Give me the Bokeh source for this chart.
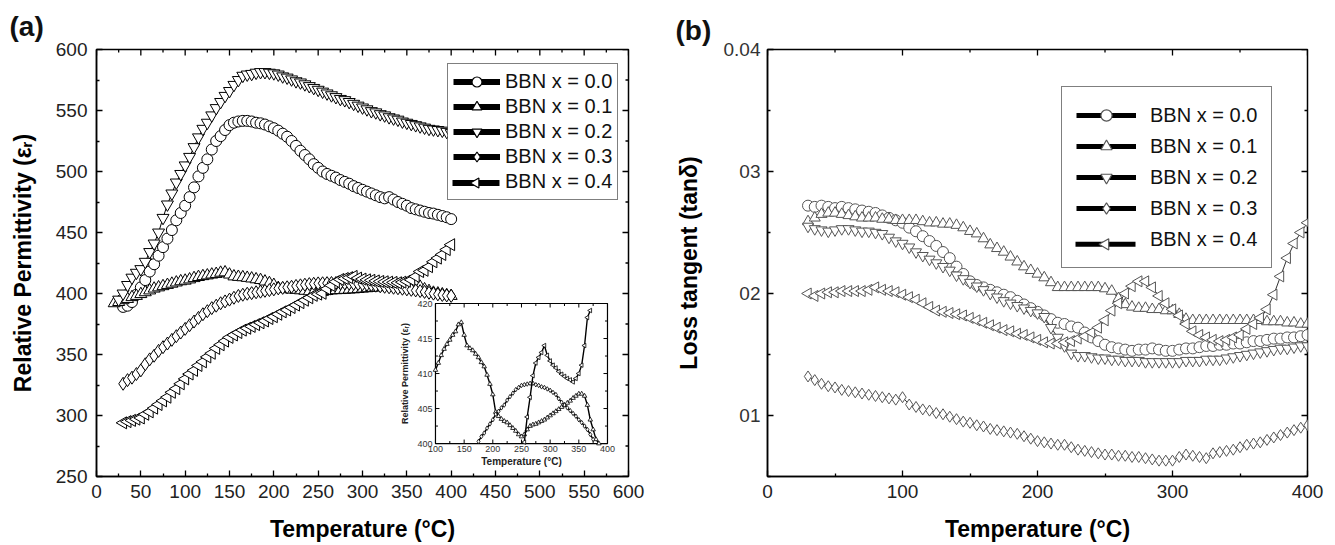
import numpy as np
from bokeh.plotting import figure
from bokeh.models import Range1d, FixedTicker, Legend, LegendItem
from bokeh.layouts import row
from bokeh.embed import file_html
from bokeh.resources import INLINE
from bokeh.core.properties import value

FONT = "Liberation Sans"

# ---------------- data: panel (a) relative permittivity ----------------
T_A = [20, 25, 30, 35, 40, 45, 50, 55, 60, 65, 70, 75, 80, 85, 90, 95, 100, 105, 110, 115,
       120, 125, 130, 135, 140, 145, 150, 155, 160, 165, 170, 175, 180, 185, 190, 195, 200,
       205, 210, 215, 220, 225, 230, 235, 240, 245, 250, 255, 260, 265, 270, 275, 280, 285,
       290, 295, 300, 305, 310, 315, 320, 325, 330, 335, 340, 345, 350, 355, 360, 365, 370,
       375, 380, 385, 390, 395, 400]

EPS_X00 = [389, 390, 393, 399, 405, 411, 418, 424, 431, 438,
           445, 452, 460, 466, 472, 479, 487, 496, 503, 510,
           518, 525, 529, 534, 538, 540, 541, 541.5, 541.5, 541,
           540, 539.5, 538.5, 537, 535.5, 533.5, 531, 528.5, 525, 521,
           517, 513.5, 510, 506, 503, 500, 498, 496.5, 495, 493,
           491.5, 490, 488, 486.5, 485, 483.5, 482, 480.5, 479, 478,
           479, 477, 475, 473.5, 472, 470, 469, 468, 467, 466,
           465.5, 464.5, 463.5, 462.5, 461]

EPS_X01 = [392, 393, 394.5, 395.5, 397, 398, 399.5, 401, 402.5, 404,
           405, 406, 407, 408, 409, 410, 410.5, 411.5, 412.6, 413.5,
           414.2, 414.8, 415.5, 416, 417, 417.3, 415.5, 414, 413.6, 413.3,
           412.8, 412.3, 411.6, 411, 409.8, 408.5, 407, 404.5, 403.9, 403.5,
           403.2, 403, 402.6, 402.2, 401.8, 401.3, 401, 401.3, 402, 402.5,
           402.7, 402.8, 403, 403.2, 403.4, 403.7, 404, 404.3, 404.6, 404.9,
           405.2, 405.5, 405.8, 406.1, 406.5, 406.8, 407.1, 407.1, 406.8, 405.5,
           403.4, 402, 400.6, 400, 399.3, 398.6, 398]

EPS_X02 = [395, 400, 407, 413, 417, 420, 426, 434, 441, 450,
           462, 473, 482, 491, 498, 505, 512, 520, 528, 535,
           540, 546, 552, 557, 562, 566, 571, 575, 578.5, 579.5,
           580, 581, 581.5, 581.5, 581, 580.5, 579.5, 578, 577, 575.5,
           574, 573, 571.5, 570, 568.5, 567, 565.5, 564, 562.5, 561,
           559.5, 558.5, 557, 555.5, 554, 552.5, 551, 549.5, 548.5, 547,
           546, 544.5, 543.5, 542.5, 541, 540, 539, 538, 537, 536,
           535, 534.5, 534, 533.5, 532.5, 531.5]

EPS_X03 = [326, 329, 331, 334, 337, 342, 346, 349, 353, 356,
           359, 362, 365, 368, 371, 374, 377, 380, 383, 385.5,
           388, 390, 392, 393.5, 395, 396.5, 398, 399, 399.8, 400.3,
           401, 401.5, 402.2, 402.8, 403.4, 404.2, 404.6, 405.1, 405.5, 406.2,
           406.7, 407.2, 407.7, 408, 408.3, 408.4, 408.5, 408.6, 408.6, 408.4,
           408.3, 408.1, 408, 407.8, 407.6, 407.3, 407, 406.4, 405.9, 405.5,
           405.1, 404.7, 404.3, 403.9, 403.4, 403, 402.5, 402, 401.3, 400.6,
           399.9, 399.3, 398.8, 398.4, 398]

EPS_X04 = [294, 295, 296, 297, 298, 301, 303, 306, 309, 312,
           315, 319, 322, 326, 330, 334, 337, 341, 344, 348,
           351, 355, 358, 361, 364, 366, 368, 370, 371.5, 373,
           374.5, 376, 377.5, 379.5, 381, 383, 385, 386.5, 388.5, 390.5,
           392.5, 394.5, 396.5, 398.5, 399.5, 400.2, 403.8, 406.6, 409.7, 411.5,
           412.3, 413, 414, 412.6, 411.8, 411.2, 410.8, 410.3, 409.9, 409.6,
           409.3, 409.1, 408.8, 409.3, 410, 411.2, 414, 418, 419, 422,
           426, 429, 432, 436, 440]

# ---------------- data: panel (b) loss tangent ----------------
T_B = [30, 35, 40, 45, 50, 55, 60, 65, 70, 75, 80, 85, 90, 95, 100, 105, 110, 115, 120,
       125, 130, 135, 140, 145, 150, 155, 160, 165, 170, 175, 180, 185, 190, 195, 200, 205,
       210, 215, 220, 225, 230, 235, 240, 245, 250, 255, 260, 265, 270, 275, 280, 285, 290,
       295, 300, 305, 310, 315, 320, 325, 330, 335, 340, 345, 350, 355, 360, 365, 370, 375,
       380, 385, 390, 395, 400]

TAN_X00 = [.0272, .0271, .0272, .0271, .0270, .0271, .0270, .0269, .0268, .0267,
           .0266, .0264, .0262, .0260, .0258, .0254, .0251, .0247, .0243, .0239,
           .0234, .0229, .0222, .0216, .0210, .0207, .0205, .0203, .0201, .0199,
           .0197, .0194, .0191, .0188, .0185, .0182, .0179, .0176, .0175, .0173,
           .0172, .0168, .0164, .0161, .0158, .0156, .0155, .0154, .0153, .0154,
           .0154, .0155, .0154, .0153, .0153, .0154, .0155, .0155, .0156, .0157,
           .0157, .0158, .0158, .0159, .0159, .0160, .0161, .0161, .0162, .0163,
           .0163, .0164, .0164, .0165, .0166]

TAN_X01 = [.0259, .0262, .0265, .0266, .0266, .0265, .0264, .0263, .0262, .0262,
           .0262, .0261, .0261, .0260, .0260, .0260, .0260, .0259, .0258, .0258,
           .0257, .0257, .0256, .0254, .0251, .0249, .0245, .0240, .0237, .0234,
           .0230, .0226, .0222, .0219, .0216, .0213, .0209, .0205, .0205, .0205,
           .0205, .0205, .0205, .0205, .0204, .0202, .0196, .0191, .0189, .0188,
           .0188, .0187, .0187, .0186, .0186, .0183, .0179, .0178, .0178, .0178,
           .0178, .0178, .0178, .0178, .0178, .0178, .0178, .0178, .0177, .0177,
           .0177, .0176, .0176, .0175, .0175]

TAN_X02 = [.0255, .0253, .0252, .0251, .0252, .0253, .0253, .0252, .0251, .0251,
           .0250, .0249, .0246, .0243, .0241, .0238, .0234, .0231, .0228, .0225,
           .0222, .0219, .0215, .0212, .0209, .0206, .0203, .0200, .0197, .0194,
           .0192, .0190, .0188, .0186, .0184, .0181, .0172, .0164, .0157, .0151,
           .0149, .0149, .0148, .0147, .0147, .0146, .0146, .0145, .0145, .0145,
           .0144, .0144, .0144, .0144, .0144, .0144, .0145, .0145, .0145, .0146,
           .0146, .0146, .0147, .0148, .0149, .0150, .0151, .0152, .0153, .0154,
           .0155, .0155, .0156, .0157, .0157]

TAN_X03 = [.0132, .0129, .0126, .0124, .0123, .0121, .0120, .0119, .0118, .0117,
           .0116, .0115, .0114, .0113, .0115, .0109, .0107, .0105, .0104, .0102,
           .0101, .0099, .0097, .0095, .0094, .0092, .0091, .0089, .0088, .0087,
           .0086, .0085, .0083, .0081, .0079, .0078, .0077, .0076, .0076, .0074,
           .0072, .0071, .0070, .0069, .0068, .0068, .0067, .0067, .0066, .0066,
           .0065, .0064, .0063, .0063, .0063, .0066, .0068, .0067, .0066, .0065,
           .0069, .0070, .0071, .0072, .0074, .0076, .0077, .0078, .0080, .0082,
           .0084, .0086, .0088, .0090, .0092]

TAN_X04 = [.0200, .0198, .0200, .0201, .0201, .0202, .0202, .0202, .0202, .0203,
           .0205, .0203, .0202, .0201, .0199, .0197, .0195, .0192, .0189, .0186,
           .0185, .0184, .0183, .0182, .0180, .0178, .0176, .0174, .0172, .0170,
           .0169, .0167, .0166, .0164, .0162, .0160, .0159, .0159, .0160, .0161,
           .0163, .0165, .0168, .0172, .0178, .0186, .0192, .0200, .0206, .0210,
           .0210, .0205, .0198, .0192, .0187, .0182, .0175, .0169, .0166, .0164,
           .0162, .0161, .0162, .0164, .0166, .0171, .0175, .0180, .0187, .0199,
           .0214, .0229, .0241, .0250, .0258]

SERIES_LABELS = ["BBN x = 0.0", "BBN x = 0.1", "BBN x = 0.2", "BBN x = 0.3", "BBN x = 0.4"]
MARKERS = ["circle", "triangle", "inverted_triangle", "diamond", "triangle"]
ANGLES = [0, 0, 0, 0, np.pi / 2]

# ticks
X_TICKS_A = [0, 50, 100, 150, 200, 250, 300, 350, 400, 450, 500, 550, 600]
X_MINOR_A = [25, 75, 125, 175, 225, 275, 325, 375, 425, 475, 525, 575]
Y_TICKS_A = [250, 300, 350, 400, 450, 500, 550, 600]
Y_MINOR_A = [275, 325, 375, 425, 475, 525, 575]
INSET_X = (100, 400)
INSET_Y = (400, 420)
INSET_X_TICKS = [100, 150, 200, 250, 300, 350, 400]
INSET_X_MINOR = [125, 175, 225, 275, 325, 375]
INSET_Y_TICKS = [400, 405, 410, 415, 420]
INSET_Y_MINOR = [402.5, 407.5, 412.5, 417.5]
X_TICKS_B = [0, 100, 200, 300, 400]
X_MINOR_B = [50, 150, 250, 350]
Y_TICKS_B = [0.01, 0.02, 0.03, 0.04]
Y_MINOR_B = [0.005, 0.015, 0.025, 0.035]
Y_TICK_TEXT_B = ["01", "02", "03", "0.04"]

LEGEND_LABEL_W = 106   # approx. pixel width of a legend label at 20px


def base_fig(width, height, xr, yr, left, right, top, bottom):
    p = figure(width=width, height=height, x_range=Range1d(*xr), y_range=Range1d(*yr),
               output_backend="svg", toolbar_location=None, tools="",
               min_border_left=left, min_border_right=right,
               min_border_top=top, min_border_bottom=bottom)
    p.grid.visible = False
    p.outline_line_color = "black"
    p.outline_line_width = 1.5
    p.background_fill_color = "white"
    p.border_fill_color = "white"
    return p


def style_axis(ax, ticks, minor, standoff=8):
    ax.ticker = FixedTicker(ticks=ticks, minor_ticks=minor)
    ax.major_tick_in = 6
    ax.major_tick_out = 0
    ax.minor_tick_in = 3
    ax.minor_tick_out = 0
    ax.major_tick_line_width = 1.3
    ax.minor_tick_line_width = 1.3
    ax.axis_line_width = 1.5
    ax.major_label_text_font = FONT
    ax.major_label_text_font_size = "19px"
    ax.major_label_text_color = "#222222"
    ax.major_label_standoff = standoff
    ax.axis_label_text_font = FONT
    ax.axis_label_text_font_style = "bold"
    ax.axis_label_text_font_size = "23px"
    ax.axis_label_text_color = "black"


def style_title(p, text, offset, standoff):
    p.title.text = text
    p.title.align = "left"
    p.title.offset = offset
    p.title.standoff = standoff
    p.title.text_font = FONT
    p.title.text_font_size = "28px"
    p.title.text_font_style = "bold"
    p.title.text_color = "#111111"


def mirror_ticks(p, xr, yr, frame_w, frame_h, xt, xm, yt, ym):
    """tick marks on the top and right frame edges (inward), drawn as segments"""
    upx = (xr[1] - xr[0]) / frame_w
    upy = (yr[1] - yr[0]) / frame_h
    x0s, x1s, y0s, y1s = [], [], [], []
    for tl, ticks in ((6, xt), (3, xm)):
        for t in ticks:
            x0s.append(t); x1s.append(t); y0s.append(yr[1]); y1s.append(yr[1] - tl * upy)
    for tl, ticks in ((6, yt), (3, ym)):
        for t in ticks:
            y0s.append(t); y1s.append(t); x0s.append(xr[1]); x1s.append(xr[1] - tl * upx)
    p.segment(x0=x0s, y0=y0s, x1=x1s, y1=y1s, line_color="black", line_width=1.3)


def make_legend(p, xs_list, ys_list, line_w, mcolor, loc, gw, gh, spacing, padding, standoff,
                border_w, frame_w, frame_h):
    n = len(SERIES_LABELS)
    # pixel-mapped ranges for the legend backdrop and the rotated marker sample
    p.extra_x_ranges = {**p.extra_x_ranges, "lpx": Range1d(0, frame_w)}
    p.extra_y_ranges = {**p.extra_y_ranges, "lpy": Range1d(0, frame_h)}
    PR = dict(x_range_name="lpx", y_range_name="lpy")
    box_w = 2 * padding + gw + standoff + LEGEND_LABEL_W
    box_h = 2 * padding + n * gh + (n - 1) * spacing
    p.quad(left=[loc[0]], right=[loc[0] + box_w], bottom=[loc[1]], top=[loc[1] + box_h],
           fill_color="white", line_color=None, **PR)

    items = []
    for i, (lab, xs, ys, mk, ang) in enumerate(zip(SERIES_LABELS, xs_list, ys_list, MARKERS, ANGLES)):
        if ang == 0:
            rs = [p.line(xs[:1], ys[:1], line_color="black", line_width=line_w, visible=False),
                  p.scatter(xs[:1], ys[:1], marker=mk, size=10, fill_color="white",
                            line_color=mcolor, line_width=1.2, visible=False)]
        else:
            rs = [p.line(xs[:1], ys[:1], line_color="black", line_alpha=0, line_width=line_w,
                         visible=False)]
            cx0 = loc[0] + padding
            cy = loc[1] + box_h - padding - i * (gh + spacing) - gh / 2
            p.segment(x0=[cx0], y0=[cy], x1=[cx0 + gw], y1=[cy], line_color="black",
                      line_width=line_w, **PR)
            p.scatter([cx0 + gw / 2], [cy], marker=mk, angle=ang, size=0.4 * gh,
                      fill_color="white", line_color=mcolor, line_width=1.2, **PR)
        items.append(LegendItem(label=lab, renderers=rs))
    leg = Legend(items=items, location=loc, glyph_width=gw, glyph_height=gh, spacing=spacing,
                 padding=padding, margin=0, label_standoff=standoff,
                 label_text_font=FONT, label_text_font_size="20px", label_text_color="#111111",
                 border_line_color="black", border_line_width=border_w,
                 background_fill_alpha=0.0)
    p.add_layout(leg)


# ======================= panel (a) =======================
A_XR, A_YR = (0, 600), (250, 600)
A_W, A_H, A_L, A_R, A_T, A_B = 660, 545, 96, 32, 49, 69
FRAME_A_W, FRAME_A_H = A_W - A_L - A_R, A_H - A_T - A_B
pa = base_fig(A_W, A_H, A_XR, A_YR, A_L, A_R, A_T, A_B)
style_axis(pa.xaxis[0], X_TICKS_A, X_MINOR_A, standoff=8)
pa.xaxis[0].axis_label = "Temperature (°C)"
pa.xaxis[0].axis_label_standoff = 15
style_axis(pa.yaxis[0], Y_TICKS_A, Y_MINOR_A, standoff=9)
pa.yaxis[0].axis_label = "Relative Permittivity (εᵣ)"
pa.yaxis[0].axis_label_standoff = 17
mirror_ticks(pa, A_XR, A_YR, FRAME_A_W, FRAME_A_H, X_TICKS_A, X_MINOR_A, Y_TICKS_A, Y_MINOR_A)
style_title(pa, "(a)", -87, 16)

SERIES_A = [EPS_X00, EPS_X01, EPS_X02, EPS_X03, EPS_X04]
SIZES_A = [11, 12, 12, 13, 12]
xs_a = [T_A[len(T_A) - len(v):] for v in SERIES_A]
for xs, ys, mk, ang, sz in zip(xs_a, SERIES_A, MARKERS, ANGLES, SIZES_A):
    pa.line(xs, ys, line_color="black", line_width=1)
    pa.scatter(xs, ys, marker=mk, angle=ang, size=sz, fill_color="white",
               line_color="black", line_width=1)

# ---- inset (drawn through extra ranges of the same frame) ----
INSET_BOX = (382.3, 576.3, 277.0, 391.8)   # inset frame in main-axis units: left, right, bottom, top
kx = (INSET_X[1] - INSET_X[0]) / (INSET_BOX[1] - INSET_BOX[0])
ky = (INSET_Y[1] - INSET_Y[0]) / (INSET_BOX[3] - INSET_BOX[2])
pa.extra_x_ranges = {"ix": Range1d(INSET_X[0] - (INSET_BOX[0] - A_XR[0]) * kx,
                                   INSET_X[1] + (A_XR[1] - INSET_BOX[1]) * kx)}
pa.extra_y_ranges = {"iy": Range1d(INSET_Y[0] - (INSET_BOX[2] - A_YR[0]) * ky,
                                   INSET_Y[1] + (A_YR[1] - INSET_BOX[3]) * ky)}
ux = kx * (A_XR[1] - A_XR[0]) / FRAME_A_W   # inset x-units per pixel
uy = ky * (A_YR[1] - A_YR[0]) / FRAME_A_H   # inset y-units per pixel
IR = dict(x_range_name="ix", y_range_name="iy")

pa.quad(left=[INSET_X[0]], right=[INSET_X[1]], bottom=[INSET_Y[0]], top=[INSET_Y[1]],
        fill_color="white", line_color="black", line_width=1.2, **IR)

x0s, x1s, y0s, y1s = [], [], [], []
for tl, ticks in ((4, INSET_X_TICKS), (2.5, INSET_X_MINOR)):
    for t in ticks:
        x0s += [t, t]; x1s += [t, t]
        y0s += [INSET_Y[0], INSET_Y[1]]
        y1s += [INSET_Y[0] + tl * uy, INSET_Y[1] - tl * uy]
for tl, ticks in ((4, INSET_Y_TICKS), (2.5, INSET_Y_MINOR)):
    for t in ticks:
        y0s += [t, t]; y1s += [t, t]
        x0s += [INSET_X[0], INSET_X[1]]
        x1s += [INSET_X[0] + tl * ux, INSET_X[1] - tl * ux]
pa.segment(x0=x0s, y0=y0s, x1=x1s, y1=y1s, line_color="black", line_width=1, **IR)

for idx in (1, 3, 4):
    pts = [(x, y) for x, y in zip(xs_a[idx], SERIES_A[idx])
           if INSET_X[0] <= x <= INSET_X[1] and INSET_Y[0] <= y <= INSET_Y[1]]
    ix = [q[0] for q in pts]
    iy = [q[1] for q in pts]
    pa.line(ix, iy, line_color="black", line_width=1.4, **IR)
    pa.scatter(ix, iy, marker=MARKERS[idx], angle=ANGLES[idx], size=4.5, fill_color="white",
               line_color="black", line_width=0.8, **IR)

pa.text(x=INSET_X_TICKS, y=[INSET_Y[0]] * len(INSET_X_TICKS), text=[str(t) for t in INSET_X_TICKS],
        text_align="center", text_baseline="top", y_offset=2, text_font=value(FONT),
        text_font_size="9px", text_color="#333333", **IR)
pa.text(x=[INSET_X[0]] * len(INSET_Y_TICKS), y=INSET_Y_TICKS, text=[str(t) for t in INSET_Y_TICKS],
        text_align="right", text_baseline="middle", x_offset=-3, text_font=value(FONT),
        text_font_size="9px", text_color="#333333", **IR)
pa.text(x=[(INSET_X[0] + INSET_X[1]) / 2], y=[INSET_Y[0]], text=["Temperature (°C)"],
        text_align="center", text_baseline="top", y_offset=12, text_font=value(FONT),
        text_font_style="bold", text_font_size="10px", text_color="#222222", **IR)
pa.text(x=[INSET_X[0]], y=[(INSET_Y[0] + INSET_Y[1]) / 2], text=["Relative Permittivity (εᵣ)"],
        text_align="center", text_baseline="middle", x_offset=-30, angle=np.pi / 2,
        text_font=value(FONT), text_font_style="bold", text_font_size="9px",
        text_color="#222222", **IR)

make_legend(pa, xs_a, SERIES_A, 6, "black", (351, 276), 47, 25, 0, 5, 5, 1.2,
            FRAME_A_W, FRAME_A_H)

# ======================= panel (b) =======================
B_XR, B_YR = (0, 400), (0.005, 0.04)
B_W, B_H, B_L, B_R, B_T, B_B = 675, 545, 107, 28, 43, 68
FRAME_B_W, FRAME_B_H = B_W - B_L - B_R, B_H - B_T - B_B
pb = base_fig(B_W, B_H, B_XR, B_YR, B_L, B_R, B_T, B_B)
style_axis(pb.xaxis[0], X_TICKS_B, X_MINOR_B, standoff=8)
pb.xaxis[0].axis_label = "Temperature (°C)"
pb.xaxis[0].axis_label_standoff = 15
style_axis(pb.yaxis[0], Y_TICKS_B, Y_MINOR_B, standoff=7)
pb.yaxis[0].major_label_overrides = dict(zip(Y_TICKS_B, Y_TICK_TEXT_B))
pb.yaxis[0].major_label_text_color = "#333333"
pb.yaxis[0].axis_label = "Loss tangent (tanδ)"
pb.yaxis[0].axis_label_standoff = 19
mirror_ticks(pb, B_XR, B_YR, FRAME_B_W, FRAME_B_H, X_TICKS_B, X_MINOR_B, Y_TICKS_B, Y_MINOR_B)
style_title(pb, "(b)", -92, 8)

SERIES_B = [TAN_X00, TAN_X01, TAN_X02, TAN_X03, TAN_X04]
xs_b = [T_B[len(T_B) - len(v):] for v in SERIES_B]
for xs, ys, mk, ang in zip(xs_b, SERIES_B, MARKERS, ANGLES):
    pb.line(xs, ys, line_color="#333333", line_width=1)
    pb.scatter(xs, ys, marker=mk, angle=ang, size=11, fill_color="white",
               line_color="#555555", line_width=1)

make_legend(pb, xs_b, SERIES_B, 5, "#555555", (294, 208), 60, 28, 3, 14, 14, 1.8,
            FRAME_B_W, FRAME_B_H)

layout = row(pa, pb)
open("out.html", "w").write(file_html(layout, INLINE))
